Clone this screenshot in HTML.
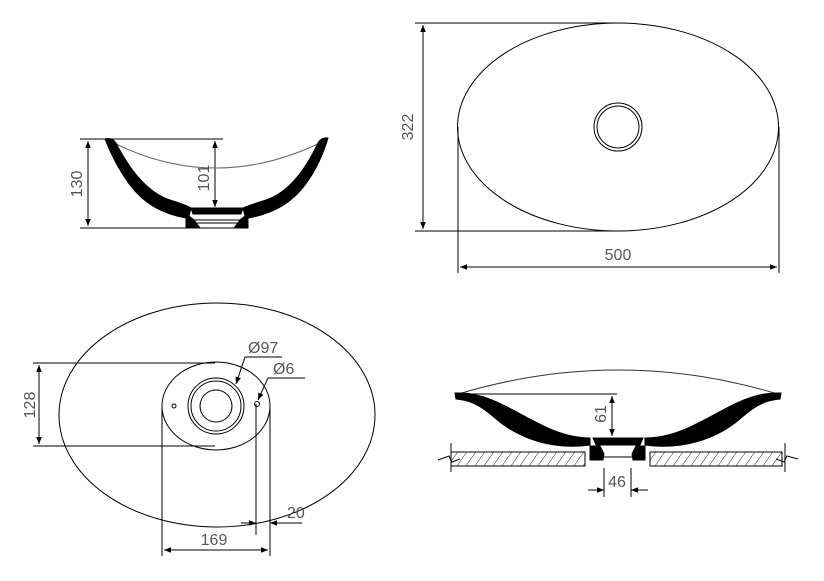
<!DOCTYPE html>
<html><head><meta charset="utf-8"><style>
html,body{margin:0;padding:0;background:#fff;}
svg{display:block}
text{font-family:"Liberation Sans",sans-serif;font-size:16px;fill:#555;stroke:none;}
</style></head><body>
<svg width="824" height="581" viewBox="0 0 824 581" xmlns="http://www.w3.org/2000/svg">
<defs>
<marker id="a" viewBox="0 0 10 10" refX="10" refY="5" markerWidth="7" markerHeight="7" orient="auto-start-reverse"><path d="M0,1 L10,5 L0,9 z" fill="#000" stroke="none"/></marker>
<pattern id="h" patternUnits="userSpaceOnUse" width="9" height="14" patternTransform="skewX(-35)"><line x1="0" y1="0" x2="0" y2="14" stroke="#000" stroke-width="1"/></pattern>
</defs>
<g stroke="#000" fill="none" stroke-width="1">
<line x1="80" y1="139" x2="223" y2="139"/>
<line x1="80" y1="228" x2="240" y2="228"/>
<line x1="88" y1="141" x2="88" y2="226" marker-start="url(#a)" marker-end="url(#a)"/>
<line x1="215" y1="141" x2="215" y2="207" marker-start="url(#a)" marker-end="url(#a)"/>
<path d="M108,140 Q215,196 326,140" stroke="#666"/>
<path d="M105,139 Q112,137 116,143 Q140,190 170,200 Q186,205 191,208 L189,216 L194,220 L200,228 L186,228 L186,218 Q150,212 130,185 Q115,165 105,139 Z" fill="#000"/>
<path d="M328,138 Q321,137 318,143 Q296,190 266,200 Q250,205 243,208 L245,216 L240,220 L234,228 L248,228 L248,218 Q285,212 305,185 Q320,165 328,138 Z" fill="#000"/>
<path d="M191,208 L243,208 L241,214 L193,214 Z" fill="#000"/>
<path d="M194,220 L240,220 M196,223 L238,223"/>
<text transform="translate(82,184) rotate(-90)" text-anchor="middle">130</text>
<text transform="translate(209,178) rotate(-90)" text-anchor="middle">101</text>
<ellipse cx="618" cy="127" rx="160.5" ry="104"/>
<circle cx="618" cy="127" r="24"/>
<circle cx="618" cy="127" r="21"/>
<line x1="415" y1="23" x2="620" y2="23"/>
<line x1="415" y1="231" x2="620" y2="231"/>
<line x1="423" y1="25" x2="423" y2="229" marker-start="url(#a)" marker-end="url(#a)"/>
<line x1="458" y1="127" x2="458" y2="273"/>
<line x1="779" y1="127" x2="779" y2="273"/>
<line x1="460" y1="267" x2="777" y2="267" marker-start="url(#a)" marker-end="url(#a)"/>
<text x="618" y="260" text-anchor="middle">500</text>
<text transform="translate(413,127) rotate(-90)" text-anchor="middle">322</text>
<ellipse cx="217" cy="415" rx="158" ry="112"/>
<ellipse cx="216" cy="406" rx="54" ry="44"/>
<circle cx="216" cy="406" r="28"/>
<circle cx="216" cy="406" r="25"/>
<circle cx="216" cy="406" r="16"/>
<circle cx="174" cy="406" r="2"/>
<circle cx="257" cy="404" r="2.5"/>
<line x1="33" y1="363" x2="215" y2="363"/>
<line x1="33" y1="446" x2="215" y2="446"/>
<line x1="39" y1="365" x2="39" y2="444" marker-start="url(#a)" marker-end="url(#a)"/>
<text transform="translate(35,405) rotate(-90)" text-anchor="middle">128</text>
<polyline points="282,357 245,357 236,384" marker-end="url(#a)"/>
<polyline points="305,378 268,378 258,400" marker-end="url(#a)"/>
<text x="248" y="353">Ø97</text>
<text x="273" y="374">Ø6</text>
<line x1="162" y1="406" x2="162" y2="556"/>
<line x1="256" y1="404" x2="256" y2="535"/>
<line x1="270" y1="406" x2="270" y2="556"/>
<line x1="164" y1="550" x2="268" y2="550" marker-start="url(#a)" marker-end="url(#a)"/>
<line x1="241" y1="523" x2="256" y2="523" marker-end="url(#a)"/>
<line x1="302" y1="523" x2="270" y2="523" marker-end="url(#a)"/>
<text x="214" y="545" text-anchor="middle">169</text>
<text x="287" y="518">20</text>
<path d="M455,395 Q618,345 781,395" stroke="#333"/>
<line x1="455" y1="394" x2="617" y2="394"/>
<path d="M455,393 L460,393 C505,393 540,438 590,438 L590,445 C555,450 520,440 495,418 C478,403 468,400 456,399 Z" fill="#000"/>
<path d="M781,393 L776,393 C731,393 696,438 645,438 L645,445 C681,450 716,440 741,418 C758,403 768,400 780,399 Z" fill="#000"/>
<path d="M593,438 L643,438 L640,445 L596,445 Z" fill="#000"/>
<path d="M590,446 L600,446 L604,454 L603,460 L590,460 Z M645,446 L636,446 L632,454 L633,460 L645,460 Z" fill="#000"/>
<line x1="604" y1="457" x2="632" y2="457"/>
<rect x="451" y="452" width="134" height="14" fill="url(#h)"/>
<rect x="650" y="452" width="132" height="14" fill="url(#h)"/>
<path d="M451,443 L451,472 M438,460 L449,456 L452,462 L460,459"/>
<path d="M785,443 L785,472 M798,459 L787,456 L784,462 L776,459"/>
<line x1="612" y1="396" x2="612" y2="436" marker-start="url(#a)" marker-end="url(#a)"/>
<text transform="translate(606,414) rotate(-90)" text-anchor="middle">61</text>
<line x1="604" y1="468" x2="604" y2="497"/>
<line x1="631" y1="468" x2="631" y2="497"/>
<line x1="588" y1="490" x2="604" y2="490" marker-end="url(#a)"/>
<line x1="648" y1="490" x2="631" y2="490" marker-end="url(#a)"/>
<text x="617" y="487" text-anchor="middle">46</text>
</g>
</svg>
</body></html>
